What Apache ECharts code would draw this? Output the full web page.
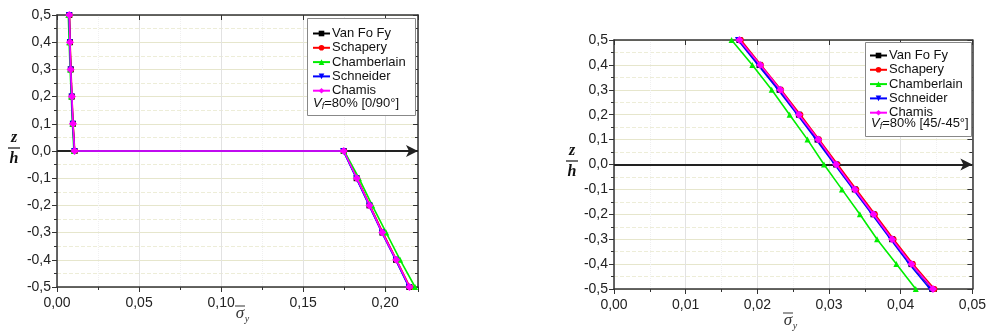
<!DOCTYPE html>
<html><head><meta charset="utf-8">
<script src="https://cdn.jsdelivr.net/npm/echarts@6/dist/echarts.min.js"></script>
<style>html,body{margin:0;padding:0;background:#fff}#c{width:989px;height:331px}</style>
</head><body><div id="c"></div>
<script>
// z/h positions
const zLeft = [0.5, 0.4, 0.3, 0.2, 0.1, 0.0, 0.0, -0.1, -0.2, -0.3, -0.4, -0.5];
const zRight = [0.5, 0.4, 0.3, 0.2, 0.1, 0.0, -0.1, -0.2, -0.3, -0.4, -0.5];
// Left chart [0/90°] sigma_y values
const L_vanFoFy    = [0.0075, 0.0079, 0.0084, 0.0090, 0.0097, 0.0107, 0.1747, 0.1826, 0.1904, 0.1983, 0.2066, 0.2147];
const L_schapery   = [0.0076, 0.0080, 0.0085, 0.0091, 0.0098, 0.0108, 0.1749, 0.1829, 0.1907, 0.1986, 0.2069, 0.2151];
const L_chamberlain= [0.0069, 0.0074, 0.0080, 0.0087, 0.0094, 0.0103, 0.1750, 0.1840, 0.1921, 0.2006, 0.2091, 0.2182];
const L_schneider  = [0.0074, 0.0078, 0.0083, 0.0089, 0.0096, 0.0106, 0.1745, 0.1824, 0.1902, 0.1980, 0.2064, 0.2144];
const L_chamis     = [0.0075, 0.0079, 0.0083, 0.0091, 0.0097, 0.0107, 0.1747, 0.1827, 0.1905, 0.1982, 0.2067, 0.2148];
// Right chart [45/-45°] sigma_y values
const R_vanFoFy    = [0.0175, 0.0203, 0.0231, 0.0258, 0.0284, 0.0310, 0.0336, 0.0362, 0.0388, 0.0415, 0.0444];
const R_schapery   = [0.0177, 0.0205, 0.0233, 0.0260, 0.0286, 0.0312, 0.0338, 0.0364, 0.0390, 0.0417, 0.0447];
const R_chamberlain= [0.0164, 0.0193, 0.0220, 0.0245, 0.0270, 0.0293, 0.0318, 0.0343, 0.0367, 0.0394, 0.0421];
const R_schneider  = [0.0173, 0.0201, 0.0229, 0.0256, 0.0282, 0.0308, 0.0334, 0.0360, 0.0386, 0.0412, 0.0441];
const R_chamis     = [0.0175, 0.0204, 0.0232, 0.0258, 0.0285, 0.0310, 0.0336, 0.0362, 0.0388, 0.0415, 0.0445];
const seriesNames = ['Van Fo Fy', 'Schapery', 'Chamberlain', 'Schneider', 'Chamis'];
const seriesColors = ['#000000', '#ff0000', '#00ee00', '#0000ff', '#ff00ff'];
const seriesSymbols = ['rect', 'circle', 'triangle', 'path://M0,0 L10,0 L5,9 Z', 'diamond'];
const leftLegendNote = '[0/90°]';
const rightLegendNote = '[45/-45°]';

const chart = echarts.init(document.getElementById('c'));
const font = 'Liberation Sans, Arial, sans-serif';
const fmtX = v => v.toFixed(2).replace('.', ',');
const fmtY = v => (Math.abs(v) < 1e-9 ? 0 : v).toFixed(1).replace('.', ',');

function xAxes(gi, max, interval) {
  return [{
    type: 'value', gridIndex: gi, min: 0, max: max, interval: interval, position: 'bottom',
    axisLine: {show: true, onZero: false, lineStyle: {color: '#333', width: 1.5}},
    axisTick: {show: true, length: 5, inside: false, lineStyle: {color: '#333'}},
    minorTick: {show: true, splitNumber: 2, length: 3, lineStyle: {color: '#333'}},
    axisLabel: {formatter: fmtX, color: '#222', fontSize: 14, fontFamily: font, margin: 9, showMaxLabel: max === 0.05},
    splitLine: {show: true, lineStyle: {color: '#e2e2e2', width: 1}},
    minorSplitLine: {show: true, lineStyle: {color: '#f0f0f0', width: 1, type: 'dotted'}}
  }, {
    type: 'value', gridIndex: gi, min: 0, max: max, interval: interval, position: 'top',
    axisLine: {show: true, onZero: false, lineStyle: {color: '#333', width: 1.5}},
    axisTick: {show: true, length: 5, inside: true, lineStyle: {color: '#333'}},
    minorTick: {show: false},
    axisLabel: {show: false}, splitLine: {show: false}
  }];
}
function yAxes(gi) {
  return [{
    type: 'value', gridIndex: gi, min: -0.5, max: 0.5, interval: 0.1, position: 'left',
    axisLine: {show: true, onZero: false, lineStyle: {color: '#333', width: 1.5}},
    axisTick: {show: true, length: 5, inside: false, lineStyle: {color: '#333'}},
    minorTick: {show: true, splitNumber: 2, length: 3, lineStyle: {color: '#333'}},
    axisLabel: {formatter: fmtY, color: '#222', fontSize: 14, fontFamily: font, margin: 6},
    splitLine: {show: true, lineStyle: {color: '#e6e6cc', width: 1}},
    minorSplitLine: {show: true, lineStyle: {color: '#ededd8', width: 1, type: 'dashed'}}
  }, {
    type: 'value', gridIndex: gi, min: -0.5, max: 0.5, interval: 0.1, position: 'right',
    axisLine: {show: true, onZero: false, lineStyle: {color: '#333', width: 1.5}},
    axisTick: {show: true, length: 5, inside: true, lineStyle: {color: '#333'}},
    minorTick: {show: true, splitNumber: 2, length: 3, lineStyle: {color: '#333'}},
    axisLabel: {show: false}, splitLine: {show: false}
  }];
}

const leftSets = [L_vanFoFy, L_schapery, L_chamberlain, L_schneider, L_chamis];
const rightSets = [R_vanFoFy, R_schapery, R_chamberlain, R_schneider, R_chamis];
const series = [];
function addSeries(sets, zs, xi, yi) {
  sets.forEach((vals, i) => {
    series.push({
      name: seriesNames[i], type: 'line', xAxisIndex: xi, yAxisIndex: yi,
      data: vals.map((v, k) => [v, zs[k]]),
      symbol: seriesSymbols[i], symbolSize: i === 4 ? 8 : 6,
      lineStyle: {color: seriesColors[i], width: 1.6},
      itemStyle: {color: seriesColors[i]},
      z: 3 + i, animation: false
    });
  });
  series.push({
    type: 'line', xAxisIndex: xi, yAxisIndex: yi, data: [], silent: true,
    markLine: {silent: true, symbol: ['none', 'arrow'], symbolSize: [9, 12], label: {show: false},
      lineStyle: {color: '#222', width: 2, type: 'solid'}, data: [{yAxis: 0}], animation: false},
    z: 2
  });
}
addSeries(leftSets, zLeft, 0, 0);
addSeries(rightSets, zRight, 2, 2);

function legendCfg(left, top) {
  return {
    data: seriesNames, orient: 'vertical', left: left, top: top, z: 120, zlevel: 0,
    itemWidth: 17, itemHeight: 7, itemGap: 1.3,
    textStyle: {fontSize: 13, fontFamily: font, color: '#111', lineHeight: 13, padding: [0, 0, 0, -3]},
    padding: 0
  };
}
function noteText(x, y, note) {
  return {
    type: 'text', left: x, top: y, z: 100,
    style: {
      text: '{i|V}{s|f}=80% ' + note,
      rich: {
        i: {fontStyle: 'italic', fontSize: 13, fontFamily: font, fill: '#111'},
        s: {fontStyle: 'italic', fontSize: 9, fontFamily: font, fill: '#111', padding: [6, 0, 0, 0]}
      },
      font: '13px ' + font, fill: '#111'
    }
  };
}
function zhLabel(cx, cy) {
  return [
    {type: 'text', x: cx, y: cy - 10, style: {text: 'z', font: 'italic bold 16px Liberation Serif, serif', fill: '#111', align: 'center', verticalAlign: 'middle'}},
    {type: 'line', shape: {x1: cx - 6, y1: cy, x2: cx + 6, y2: cy}, style: {stroke: '#111', lineWidth: 1.2}},
    {type: 'text', x: cx, y: cy + 11, style: {text: 'h', font: 'italic bold 16px Liberation Serif, serif', fill: '#111', align: 'center', verticalAlign: 'middle'}}
  ];
}
function sigmaLabel(cx, cy) {
  return [
    {type: 'text', x: cx, y: cy, style: {text: 'σ', font: 'italic 17px Liberation Serif, serif', fill: '#333', align: 'center', verticalAlign: 'middle'}},
    {type: 'line', shape: {x1: cx - 5, y1: cy - 8, x2: cx + 5, y2: cy - 8}, style: {stroke: '#333', lineWidth: 1}},
    {type: 'text', x: cx + 7, y: cy + 5, style: {text: 'y', font: 'italic 10px Liberation Serif, serif', fill: '#333', align: 'center', verticalAlign: 'middle'}}
  ];
}

const graphics = [
  {type: 'rect', shape: {x: 307.5, y: 18.5, width: 108, height: 97}, style: {fill: '#fff', stroke: '#888', lineWidth: 1}, z: 50},
  {type: 'rect', shape: {x: 865.5, y: 42.5, width: 106, height: 94}, style: {fill: '#fff', stroke: '#888', lineWidth: 1}, z: 50},
  noteText(313, 97, leftLegendNote),
  noteText(871, 117, rightLegendNote)
].concat(zhLabel(14, 148), zhLabel(572, 161), sigmaLabel(240, 314), sigmaLabel(788, 321));

chart.setOption({
  animation: false,
  grid: [
    {left: 57, right: 989 - 418, top: 15, bottom: 331 - 287},
    {left: 614, right: 989 - 976, top: 40, bottom: 331 - 289}
  ],
  xAxis: xAxes(0, 0.22, 0.05).concat(xAxes(1, 0.05, 0.01)),
  yAxis: yAxes(0).concat(yAxes(1)),
  legend: [legendCfg(312, 27), legendCfg(869, 49)],
  graphic: {elements: graphics},
  series: series
});
</script></body></html>
